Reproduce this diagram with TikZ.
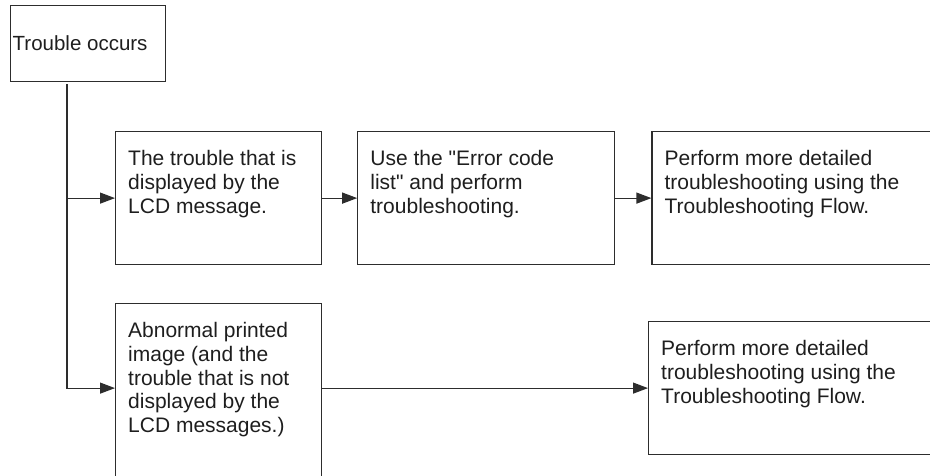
\documentclass[tikz,border=0pt]{standalone}
\usepackage{fontspec}
\setmainfont{Liberation Sans}[Ligatures=TeXOff]
\usepackage{tikz}
\usetikzlibrary{positioning, arrows.meta, calc}
\definecolor{lineink}{RGB}{45, 45, 45}
\definecolor{textink}{RGB}{30, 30, 30}

\begin{document}
\begin{tikzpicture}[
    x=1pt, y=-1pt,
    box/.style={
      rectangle, draw=lineink, line width=1.2pt,
      inner sep=0pt, anchor=north west
    },
    boxtext/.style={
      anchor=north west, align=left, text=textink,
      inner xsep=13pt, inner ysep=19pt,
      font=\fontsize{21}{23.8}\selectfont
    },
    flow/.style={
      draw=lineink, line width=1.2pt,
      -{Triangle[length=15pt, width=11pt]}
    }
  ]
    \useasboundingbox (0,0) rectangle (930,475);
    \clip (0,0) rectangle (930,475);

    % boxes
    \node[box, minimum width=155pt, minimum height=76pt]  (start)    at (10,5)    {};
    \node[box, minimum width=206pt, minimum height=133pt] (lcd)      at (115,131) {};
    \node[box, minimum width=257pt, minimum height=133pt] (errlist)  [right=35pt of lcd]     {};
    \node[box, minimum width=300pt, minimum height=133pt] (detail)   [right=36pt of errlist] {};
    \node[box, minimum width=206pt, minimum height=200pt] (abnormal) at (115,303) {};
    \node[box, minimum width=300pt, minimum height=133pt] (detailb)  at (648,321) {};

    % texts
    \node[anchor=west, inner xsep=2.5pt, text=textink,
          font=\fontsize{20.5}{23.5}\selectfont] (starttxt) at (start.west) {Trouble occurs};
    \node[boxtext] (lcdtxt)      at (lcd.north west)      {The trouble that is\\displayed by the\\LCD message.};
    \node[boxtext] (errlisttxt)  at (errlist.north west)  {Use the "Error code\\list" and perform\\troubleshooting.};
    \node[boxtext] (detailtxt)   at (detail.north west)   {Perform more detailed\\troubleshooting using the\\Troubleshooting Flow.};
    \node[boxtext] (abnormaltxt) at (abnormal.north west) {Abnormal printed\\image (and the\\trouble that is not\\displayed by the\\LCD messages.)};
    \node[boxtext] (detailbtxt)  at (detailb.north west)  {Perform more detailed\\troubleshooting using the\\Troubleshooting Flow.};

    % connectors
    \coordinate (trunk) at ($(start.south west)+(57,2)$);
    \draw[flow] (trunk) -- (trunk |- detailb.west) -- (abnormal.west |- detailb.west);
    \draw[flow] (trunk |- lcd.west) -- (lcd.west);
    \draw[flow] (lcd) -- (errlist);
    \draw[flow] (errlist) -- (detail);
    \draw[flow] (abnormal.east |- detailb.west) -- (detailb.west);
  \end{tikzpicture}
\end{document}
